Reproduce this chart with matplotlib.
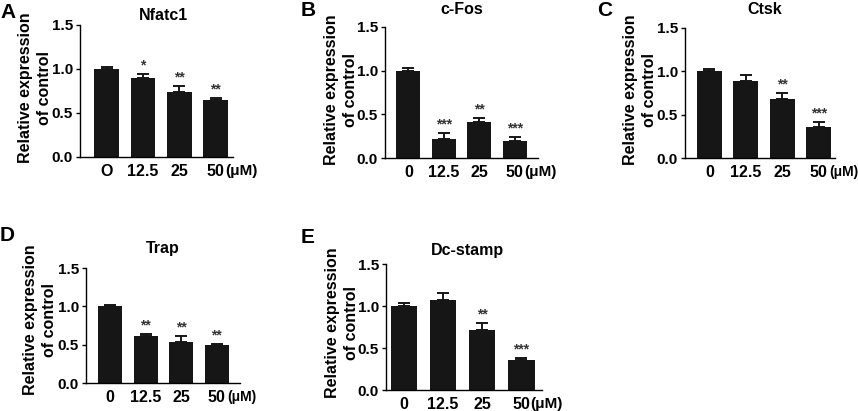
import matplotlib
matplotlib.use("Agg")
import matplotlib.pyplot as plt
from matplotlib import font_manager

# data
doses = ["0", "12.5", "25", "50"]
doses_a = ["O", "12.5", "25", "50"]

nfatc1 = [1.00, 0.90, 0.74, 0.65]
nfatc1_err = [0.02, 0.04, 0.07, 0.02]
nfatc1_sig = ["", "*", "**", "**"]

cfos = [1.00, 0.22, 0.41, 0.19]
cfos_err = [0.03, 0.07, 0.05, 0.05]
cfos_sig = ["", "***", "**", "***"]

ctsk = [1.00, 0.885, 0.68, 0.36]
ctsk_err = [0.025, 0.075, 0.07, 0.06]
ctsk_sig = ["", "", "**", "***"]

trap = [1.00, 0.61, 0.53, 0.49]
trap_err = [0.015, 0.03, 0.08, 0.02]
trap_sig = ["", "**", "**", "**"]

dcstamp = [1.00, 1.07, 0.72, 0.36]
dcstamp_err = [0.03, 0.08, 0.08, 0.02]
dcstamp_sig = ["", "", "**", "***"]

W, H = 858, 411

names = {f.name for f in font_manager.fontManager.ttflist}
narrow = "Liberation Sans Narrow" if "Liberation Sans Narrow" in names else "Liberation Sans"
plt.rcParams["font.family"] = ["Liberation Sans", "DejaVu Sans"]

fig = plt.figure(figsize=(W / 100, H / 100), dpi=100)


def add_panel(box, xlim, letter, letter_xy, title, title_xy, ylab_xy,
              labels, vals, errs, sig, mu_dx, mu_size=11):
    left, right, top, bottom = box
    ax = fig.add_axes([left / W, 1 - bottom / H, (right - left) / W, (bottom - top) / H])
    xs = range(len(vals))
    ax.bar(xs, vals, width=0.68, color="#161616", zorder=2)
    ax.errorbar(xs, vals, yerr=[[0] * len(vals), errs], fmt="none",
                ecolor="#161616", elinewidth=1.4, capsize=4, capthick=1.4, zorder=1)
    for x, v, e, s in zip(xs, vals, errs, sig):
        if s:
            ax.annotate(s, (x, v + e), xytext=(0, 1), textcoords="offset points",
                        ha="center", va="bottom", fontsize=10, color="#333333",
                        fontfamily=narrow, fontweight="bold", annotation_clip=False)
    ax.set_xlim(*xlim)
    ax.set_ylim(0, 1.5)
    ax.set_yticks([0, 0.5, 1.0, 1.5])
    ax.set_yticklabels(["0.0", "0.5", "1.0", "1.5"], fontfamily=narrow,
                       fontweight="bold", fontsize=11)
    ax.set_xticks(list(xs))
    ax.set_xticklabels(labels, fontfamily=narrow, fontweight="bold", fontsize=11.5)
    ax.tick_params(axis="x", length=0, pad=5)
    ax.tick_params(axis="y", length=3, width=1, pad=2)
    for sp in ["top", "right"]:
        ax.spines[sp].set_visible(False)
    for sp in ["left", "bottom"]:
        ax.spines[sp].set_linewidth(1.0)
    ax.annotate("(\u03bcM)", (3, 0), xytext=(mu_dx, -5), textcoords="offset points",
                ha="left", va="top", fontsize=mu_size, fontfamily=narrow,
                fontweight="bold", annotation_clip=False)
    fig.text(letter_xy[0] / W, 1 - letter_xy[1] / H, letter, ha="center", va="center",
             fontsize=15, fontweight="bold")
    fig.text(title_xy[0] / W, 1 - title_xy[1] / H, title, ha="center", va="center",
             fontsize=11.5, fontfamily=narrow, fontweight="bold")
    fig.text(ylab_xy[0] / W, 1 - ylab_xy[1] / H, "Relative expression\nof control",
             rotation=90, ha="center", va="center", fontsize=11.5, fontweight="bold",
             linespacing=1.3)
    return ax


add_panel((80, 233, 25, 157), (-0.73, 3.48), "A", (8, 12), "Nfatc1", (163, 15),
          (35, 88), doses_a, nfatc1, nfatc1_err, nfatc1_sig, 7)
add_panel((385, 538, 27, 158), (-0.66, 3.65), "B", (308, 11), "c-Fos", (462, 10),
          (341, 90), doses, cfos, cfos_err, cfos_sig, 6.5)
add_panel((685, 835, 28, 158), (-0.67, 3.45), "C", (605, 11), "Ctsk", (765, 10),
          (640, 90), doses, ctsk, ctsk_err, ctsk_sig, 8, 10)
add_panel((86, 240, 268, 383), (-0.68, 3.66), "D", (7, 235), "Trap", (163, 248),
          (40, 320), doses, trap, trap_err, trap_sig, 8, 10)
add_panel((386, 542, 264, 390), (-0.46, 3.53), "E", (308, 237), "Dc-stamp", (467, 250),
          (342, 323), doses, dcstamp, dcstamp_err, dcstamp_sig, 6.5)

fig.savefig("out.png", dpi=100)
